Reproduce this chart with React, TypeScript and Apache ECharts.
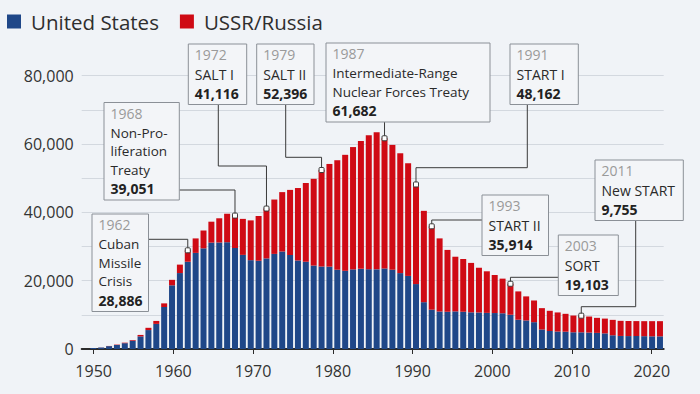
import React, { useEffect, useRef } from "react";
import * as echarts from "echarts";

// Bar categories (years shown as bars)
const barYears = [
  "1950","1951","1952","1953","1954","1955","1956","1957","1958","1959",
  "1960","1961","1962","1963","1964","1965","1966","1967","1968","1969",
  "1970","1971","1972","1973","1974","1975","1976","1977","1978","1979",
  "1980","1981","1982","1983","1984","1985","1986","1987","1988","1989",
  "1990","1991","1992","1993","1994","1995","1996","1997","1998","1999",
  "2000","2001","2002","2003","2004","2005","2006","2007","2008","2009",
  "2010","2011","2012","2013","2014","2015","2016","2017","2018","2019",
  "2020","2021","2022",
];

// Tick-axis categories (the labelled year axis)
const axisYears = [
  "1949","1950","1951","1952","1953","1954","1955","1956","1957","1958","1959",
  "1960","1961","1962","1963","1964","1965","1966","1967","1968","1969",
  "1970","1971","1972","1973","1974","1975","1976","1977","1978","1979",
  "1980","1981","1982","1983","1984","1985","1986","1987","1988","1989",
  "1990","1991","1992","1993","1994","1995","1996","1997","1998","1999",
  "2000","2001","2002","2003","2004","2005","2006","2007","2008","2009",
  "2010","2011","2012","2013","2014","2015","2016","2017","2018","2019",
  "2020","2021",
];

const usWarheads = [
  299, 438, 841, 1169, 1703, 2422, 3692, 5543, 7345, 12298,
  18638, 22229, 25540, 28133, 29463, 31139, 31175, 31255, 29561, 27552,
  26008, 25830, 26516, 27835, 28537, 27519, 25914, 25542, 24418, 24138,
  24104, 23208, 22886, 23305, 23459, 23368, 23317, 23575, 23205, 22217,
  21392, 19008, 13708, 11511, 10979, 10904, 11011, 10903, 10732, 10685,
  10577, 10526, 10457, 10027, 8570, 8360, 7853, 5709, 5273, 5113,
  5066, 4897, 4881, 4804, 4717, 4571, 4018, 3822, 3785, 3805,
  3750, 3708, 3708,
];

const russiaWarheads = [
  5, 25, 50, 120, 150, 200, 426, 660, 869, 1060,
  1605, 2471, 3346, 4238, 5221, 6129, 7089, 8339, 9490, 10538,
  11643, 13092, 14600, 15915, 17385, 19055, 21205, 23044, 25393, 28258,
  30062, 32049, 33952, 35804, 37431, 39197, 40159, 38107, 36538, 35078,
  32980, 29154, 26734, 24403, 21400, 18100, 16000, 15450, 14470, 13100,
  12170, 11130, 10140, 9076, 8290, 7040, 6350, 6250, 5910, 5590,
  5230, 4900, 4874, 4700, 4400, 4330, 4510, 4420, 4415, 4365,
  4400, 4442, 4442,
];

const yTicks = [0, 10000, 20000, 30000, 40000, 50000, 60000, 70000, 80000];
const yLabelled = [0, 20000, 40000, 60000, 80000];

// Annotations
const noteYears = ["1962", "1968", "1972", "1979", "1987", "1991", "1993", "2003", "2011"];
const noteNames = [
  ["Cuban", "Missile", "Crisis"],
  ["Non-Pro-", "liferation", "Treaty"],
  ["SALT I"],
  ["SALT II"],
  ["Intermediate-Range", "Nuclear Forces Treaty"],
  ["START I"],
  ["START II"],
  ["SORT"],
  ["New START"],
];
const noteValues = ["28,886", "39,051", "41,116", "52,396", "61,682", "48,162", "35,914", "19,103", "9,755"];
const noteBars = ["1962", "1968", "1972", "1979", "1987", "1991", "1993", "2003", "2012"];

// Layout of annotation boxes (positions only)
const boxLayout = [
  { x: 92, y: 214, w: 56.5, leader: "right", ly: 239.3, lx: 0 },
  { x: 104, y: 102.5, w: 75.3, leader: "right", ly: 190, lx: 0 },
  { x: 188.3, y: 44, w: 58.4, leader: "bottom", lx: 218.3, ly: 166 },
  { x: 256.7, y: 44, w: 57.3, leader: "bottom", lx: 285.7, ly: 157.3 },
  { x: 326, y: 43, w: 164, leader: "direct", lx: 0, ly: 0 },
  { x: 510, y: 44, w: 68.3, leader: "bottom", lx: 527.3, ly: 167.7 },
  { x: 482, y: 195, w: 66.5, leader: "left", ly: 220, lx: 0 },
  { x: 558.3, y: 235, w: 60, leader: "left", ly: 277.3, lx: 0 },
  { x: 595, y: 160, w: 88.3, leader: "bottom", lx: 635.7, ly: 306.7 },
];

const BLUE = "#1f4788";
const RED = "#cf0a14";
const BG = "#f0f3f7";
const FONT = "'Open Sans', 'Noto Sans', sans-serif";
const NAME_LH = 18.5;
const NAME_FS = 13.5;

export default function App() {
  const ref = useRef<HTMLDivElement>(null);

  useEffect(() => {
    if (!ref.current) return;
    const chart = echarts.init(ref.current, undefined, { renderer: "svg" });
    const grids = { top: 75.7, bottom: 45 };
    chart.setOption({
      animation: false,
      backgroundColor: BG,
      textStyle: { fontFamily: FONT },
      legend: {
        data: ["United States", "USSR/Russia"],
        left: 7,
        top: 11,
        padding: 0,
        icon: "rect",
        itemWidth: 14,
        itemHeight: 14,
        itemGap: 21,
        textStyle: { fontSize: 20.5, color: "#2e2e2e", fontFamily: FONT, padding: [0, 0, 0, 5] },
      },
      grid: [
        { left: 81.7, right: 36.3, ...grids },
        { left: 89.4, right: 36.1, ...grids },
      ],
      xAxis: [
        {
          type: "category",
          gridIndex: 0,
          data: axisYears,
          boundaryGap: true,
          axisLine: { show: true, lineStyle: { color: "#2b2b2b", width: 2 } },
          axisTick: {
            show: true,
            alignWithLabel: true,
            length: 5,
            interval: (_i: number, v: string) => Number(v) % 10 === 0,
            lineStyle: { color: "#2b2b2b", width: 1 },
          },
          axisLabel: {
            interval: (_i: number, v: string) => Number(v) % 10 === 0,
            fontSize: 16,
            color: "#333",
            margin: 14,
            fontFamily: FONT,
          },
          splitLine: { show: false },
        },
        {
          type: "category",
          gridIndex: 1,
          data: barYears,
          show: false,
        },
      ],
      yAxis: [
        {
          type: "value",
          gridIndex: 0,
          min: yTicks[0],
          max: yTicks[yTicks.length - 1],
          interval: 10000,
          axisLine: { show: false },
          axisTick: { show: false },
          axisLabel: {
            fontSize: 16,
            color: "#333",
            margin: 8,
            fontFamily: FONT,
            formatter: (v: number) => (yLabelled.includes(v) ? v.toLocaleString("en-US") : ""),
          },
          splitLine: { lineStyle: { color: "#d3d8df", width: 1 } },
        },
        {
          type: "value",
          gridIndex: 1,
          min: yTicks[0],
          max: yTicks[yTicks.length - 1],
          show: false,
          splitLine: { show: false },
        },
      ],
      series: [
        {
          name: "United States",
          type: "bar",
          xAxisIndex: 1,
          yAxisIndex: 1,
          stack: "total",
          barWidth: 6,
          itemStyle: { color: BLUE },
          data: usWarheads,
        },
        {
          name: "USSR/Russia",
          type: "bar",
          xAxisIndex: 1,
          yAxisIndex: 1,
          stack: "total",
          barWidth: 6,
          itemStyle: { color: RED },
          data: russiaWarheads,
        },
      ],
    });

    const graphics: any[] = [];
    noteBars.forEach((bar, i) => {
      const idx = barYears.indexOf(bar);
      const total = usWarheads[idx] + russiaWarheads[idx];
      const p = chart.convertToPixel({ gridIndex: 1 } as any, [idx, total]) as number[];
      const mx = p[0];
      const my = p[1];
      const b = boxLayout[i];
      const names = noteNames[i];
      const h = 60.5 + NAME_LH * (names.length - 1);
      const stroke = "#3a3a3a";
      let pts: number[][] = [];
      if (b.leader === "right") pts = [[b.x + b.w, b.ly], [mx, b.ly], [mx, my]];
      else if (b.leader === "left") pts = [[b.x, b.ly], [mx, b.ly], [mx, my]];
      else if (b.leader === "bottom") pts = [[b.lx, b.y + h], [b.lx, b.ly], [mx, b.ly], [mx, my]];
      else pts = [[mx, b.y + h], [mx, my]];
      graphics.push({
        type: "polyline",
        z: 20,
        shape: { points: pts },
        style: { stroke, lineWidth: 1, fill: null },
      });
      graphics.push({
        type: "rect",
        z: 22,
        shape: { x: mx - 2.5, y: my - 2.5, width: 5, height: 5, r: 1 },
        style: { fill: "#ffffff", stroke, lineWidth: 1 },
      });
      graphics.push({
        type: "rect",
        z: 21,
        shape: { x: b.x, y: b.y, width: b.w, height: h },
        style: { fill: "#f3f5f8", stroke: "#8b9097", lineWidth: 1 },
      });
      const tx = b.x + 6.5;
      const yearY = b.y + 10.5;
      graphics.push({
        type: "text",
        z: 23,
        x: tx,
        y: yearY,
        style: { text: noteYears[i], fill: "#9a9a9a", fontSize: 14, lineHeight: 16, fontFamily: FONT, verticalAlign: "middle" },
      });
      names.forEach((n, k) => {
        graphics.push({
          type: "text",
          z: 23,
          x: tx,
          y: yearY + 19.5 + NAME_LH * k,
          style: {
            text: n,
            fill: "#2a2a2a",
            fontSize: names.length > 1 ? NAME_FS : 14,
            lineHeight: 16,
            fontFamily: FONT,
            verticalAlign: "middle",
          },
        });
      });
      const valueY = yearY + 19.5 + NAME_LH * (names.length - 1) + 19;
      graphics.push({
        type: "text",
        z: 23,
        x: tx,
        y: valueY,
        style: {
          text: noteValues[i],
          fill: "#222",
          fontSize: 14,
          lineHeight: 16,
          fontWeight: "bold",
          fontFamily: FONT,
          verticalAlign: "middle",
        },
      });
    });
    chart.setOption({ graphic: graphics });

    return () => chart.dispose();
  }, []);

  return (
    <div
      ref={ref}
      style={{ position: "fixed", left: 0, top: 0, width: 700, height: 394 }}
    />
  );
}
